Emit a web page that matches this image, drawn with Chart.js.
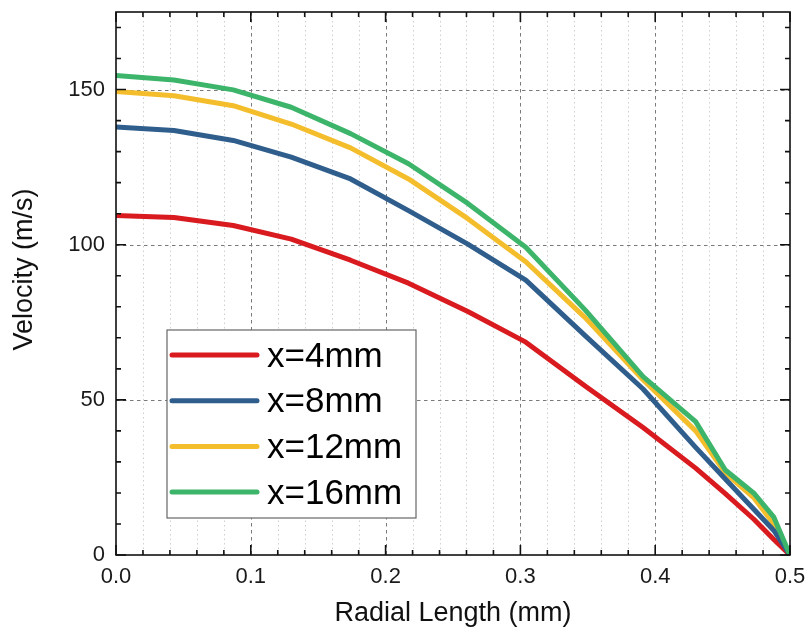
<!DOCTYPE html>
<html>
<head>
<meta charset="utf-8">
<title>Velocity profile</title>
<script src="https://cdn.jsdelivr.net/npm/chart.js@4.4.1/dist/chart.umd.min.js"></script>
<style>
  html, body { margin: 0; padding: 0; background: #fff; }
  #wrap { width: 811px; height: 635px; position: relative; }
</style>
</head>
<body>
<div id="wrap"><canvas id="velChart"></canvas></div>
<script>
// radial position (mm), shared by every profile
const radial = [0, 0.043, 0.087, 0.13, 0.174, 0.217, 0.261, 0.304, 0.348, 0.391, 0.43, 0.452, 0.473, 0.488, 0.5];

// axial velocity (m/s) at each station
const vel4  = [109.4, 108.8, 106.2, 101.8, 95.0, 87.6, 78.5, 68.6, 54.5, 41.1, 28.0, 19.8, 11.6, 5.0, 0];
const vel8  = [137.9, 136.8, 133.6, 128.2, 121.2, 111.0, 100.2, 88.6, 70.7, 53.5, 34.7, 24.5, 14.8, 7.9, 0];
const vel12 = [149.4, 148.0, 144.8, 138.9, 131.2, 121.2, 108.4, 94.5, 76.5, 56.5, 40.0, 26.5, 18.5, 10.0, 0];
const vel16 = [154.5, 153.1, 149.9, 144.3, 135.8, 126.1, 113.3, 99.2, 79.0, 57.5, 43.0, 27.4, 20.0, 12.2, 0];

const seriesNames = ['x=4mm', 'x=8mm', 'x=12mm', 'x=16mm'];
const seriesColors = ['#d91a1f', '#2f5e8d', '#f4bd2c', '#3cb56a'];

const xTicks = [0, 0.1, 0.2, 0.3, 0.4, 0.5];
const yTicks = [0, 50, 100, 150];
const yTitle = 'Velocity (m/s)';

const FONT = '"Liberation Sans", Arial, sans-serif';

function toPoints(ys) {
    return radial.map((x, i) => ({ x: x, y: ys[i] }));
}

// grid, boxed frame with inward ticks, y title and the inset legend
const framePlugin = {
    id: 'frame',
    beforeDatasetsDraw(chart) {
        const { ctx, chartArea: a, scales: { x, y } } = chart;
        ctx.save();
        ctx.lineWidth = 1;

        // minor vertical grid every 0.02
        ctx.strokeStyle = '#cfcfcf';
        ctx.setLineDash([1.5, 3]);
        for (let i = 1; i < 25; i++) {
            if (i % 5 === 0) continue;
            const px = Math.round(x.getPixelForValue(i * 0.02)) + 0.5;
            ctx.beginPath();
            ctx.moveTo(px, a.top);
            ctx.lineTo(px, a.bottom);
            ctx.stroke();
        }

        // major grid
        ctx.strokeStyle = '#7a7a7a';
        ctx.setLineDash([3.5, 3.5]);
        xTicks.slice(1, -1).forEach(v => {
            const px = Math.round(x.getPixelForValue(v)) + 0.5;
            ctx.beginPath();
            ctx.moveTo(px, a.top);
            ctx.lineTo(px, a.bottom);
            ctx.stroke();
        });
        yTicks.slice(1).forEach(v => {
            const py = Math.round(y.getPixelForValue(v)) + 0.5;
            ctx.beginPath();
            ctx.moveTo(a.left, py);
            ctx.lineTo(a.right, py);
            ctx.stroke();
        });
        ctx.restore();
    },
    afterDatasetsDraw(chart) {
        const { ctx, chartArea: a, scales: { x, y } } = chart;
        ctx.save();
        ctx.strokeStyle = '#111';
        ctx.lineWidth = 1.6;
        ctx.strokeRect(a.left, a.top, a.right - a.left, a.bottom - a.top);

        // x ticks, top and bottom, pointing inward
        for (let i = 0; i <= 25; i++) {
            const px = x.getPixelForValue(i * 0.02);
            const len = i % 5 === 0 ? 10 : 5;
            ctx.beginPath();
            ctx.moveTo(px, a.bottom);
            ctx.lineTo(px, a.bottom - len);
            ctx.moveTo(px, a.top);
            ctx.lineTo(px, a.top + len);
            ctx.stroke();
        }
        // y ticks, left and right
        for (let v = 0; v <= 170; v += 10) {
            const py = y.getPixelForValue(v);
            const len = v % 50 === 0 ? 10 : 5;
            ctx.beginPath();
            ctx.moveTo(a.left, py);
            ctx.lineTo(a.left + len, py);
            ctx.moveTo(a.right, py);
            ctx.lineTo(a.right - len, py);
            ctx.stroke();
        }

        // y title, sitting a little above the middle of the axis
        ctx.save();
        ctx.translate(25, y.getPixelForValue(92));
        ctx.rotate(-Math.PI / 2);
        ctx.font = '27px ' + FONT;
        ctx.fillStyle = '#111';
        ctx.textAlign = 'center';
        ctx.textBaseline = 'middle';
        ctx.fillText(yTitle, 0, 0);
        ctx.restore();

        // legend box
        const lx = a.left + 51, ly = a.top + 318, lw = 249, lh = 188;
        ctx.fillStyle = '#fff';
        ctx.fillRect(lx, ly, lw, lh);
        ctx.strokeStyle = '#666';
        ctx.lineWidth = 1.2;
        ctx.strokeRect(lx, ly, lw, lh);

        ctx.font = '35px ' + FONT;
        ctx.textBaseline = 'middle';
        ctx.textAlign = 'left';
        chart.data.datasets.forEach((ds, i) => {
            const cy = ly + 25 + i * 45.7;
            ctx.strokeStyle = ds.borderColor;
            ctx.lineWidth = 5;
            ctx.lineCap = 'round';
            ctx.beginPath();
            ctx.moveTo(lx + 5, cy);
            ctx.lineTo(lx + 90, cy);
            ctx.stroke();
            ctx.fillStyle = '#000';
            ctx.fillText(ds.label, lx + 100, cy + 2);
        });
        ctx.restore();
    }
};

const datasets = [vel4, vel8, vel12, vel16].map((ys, i) => ({
    label: seriesNames[i],
    data: toPoints(ys),
    borderColor: seriesColors[i],
    backgroundColor: seriesColors[i],
    borderWidth: 5,
    pointRadius: 0,
    tension: 0,
    borderJoinStyle: 'round',
    borderCapStyle: 'round',
    order: 3 - i
}));
// blue sits above yellow where the two overlap
datasets[1].order = 1;
datasets[2].order = 2;

new Chart(document.getElementById('velChart'), {
    type: 'line',
    data: { datasets: datasets },
    options: {
        responsive: true,
        maintainAspectRatio: false,
        animation: false,
        layout: { padding: { top: 12, right: 21, left: 0, bottom: 0 } },
        plugins: {
            legend: { display: false },
            tooltip: { enabled: false }
        },
        scales: {
            x: {
                type: 'linear',
                min: 0,
                max: 0.5,
                grid: { display: false, drawTicks: false },
                border: { display: false },
                afterBuildTicks: s => { s.ticks = xTicks.map(v => ({ value: v })); },
                afterFit: s => {
                    s.height = 80;
                    s.paddingLeft = 0;
                    s.paddingRight = 0;
                },
                ticks: {
                    padding: 9,
                    color: '#1a1a1a',
                    font: { family: FONT, size: 22 },
                    callback: v => v.toFixed(1)
                },
                title: {
                    display: true,
                    text: 'Radial Length (mm)',
                    color: '#111',
                    font: { family: FONT, size: 27 },
                    padding: { top: 0, bottom: 5 }
                }
            },
            y: {
                min: 0,
                max: 175,
                grid: { display: false, drawTicks: false },
                border: { display: false },
                afterBuildTicks: s => { s.ticks = yTicks.map(v => ({ value: v })); },
                afterFit: s => {
                    s.width = 116;
                    s.paddingTop = 0;
                    s.paddingBottom = 0;
                },
                ticks: {
                    padding: 11,
                    color: '#1a1a1a',
                    font: { family: FONT, size: 22 }
                }
            }
        }
    },
    plugins: [framePlugin]
});
</script>
</body>
</html>
